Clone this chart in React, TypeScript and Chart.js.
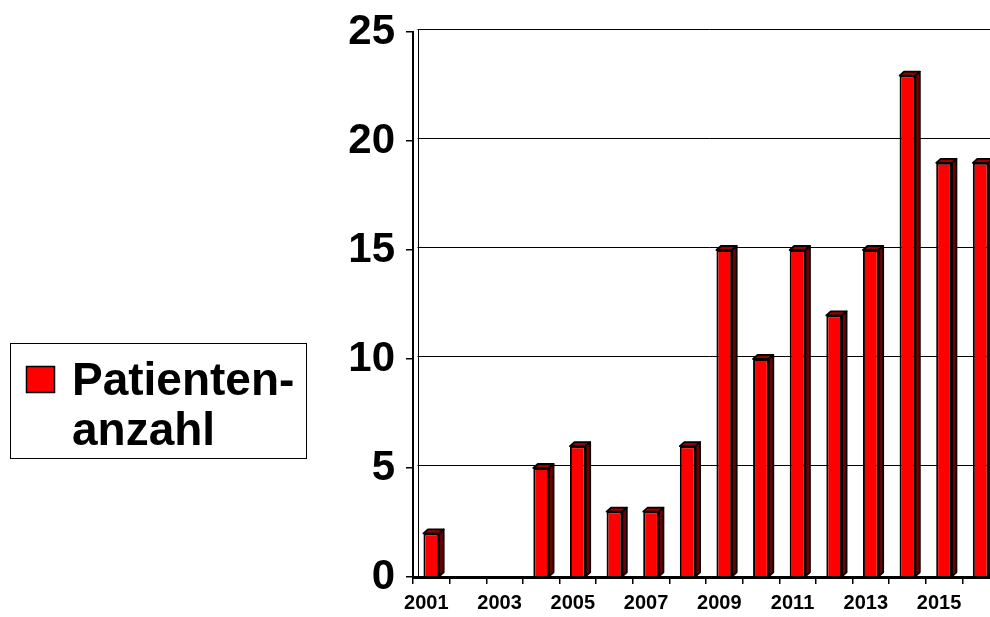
import React, { useEffect, useRef } from "react";
import { Chart, registerables } from "chart.js";

Chart.register(...registerables);

const years = ["2001","2002","2003","2004","2005","2006","2007","2008","2009","2010","2011","2012","2013","2014","2015","2016"];
const patients = [2, 0, 0, 5, 6, 3, 3, 6, 15, 10, 15, 12, 15, 23, 19, 19];
const yTicks = [0, 5, 10, 15, 20, 25];
const legendLines = ["Patienten-", "anzahl"];

const DX = 4.5;
const DY = 4;
const FONT = "'Liberation Sans', Arial, sans-serif";

const threeD = {
  id: "threeD",
  beforeDatasetsDraw(chart: any) {
    const { ctx, chartArea } = chart;
    const y = chart.scales.y;
    ctx.save();
    ctx.strokeStyle = "#000";
    ctx.lineWidth = 1;
    for (const v of yTicks) {
      if (v === 0) continue;
      const py = Math.round(y.getPixelForValue(v) - DY + 1) + 0.5;
      ctx.beginPath();
      ctx.moveTo(chartArea.left + DX, py);
      ctx.lineTo(chartArea.right + 20, py);
      ctx.stroke();
    }
    const bx = Math.round(chartArea.left + DX) + 0.5;
    ctx.beginPath();
    ctx.moveTo(bx, y.getPixelForValue(25) - DY + 1);
    ctx.lineTo(bx, y.getPixelForValue(0));
    ctx.stroke();
    ctx.restore();
  },
  afterDatasetsDraw(chart: any) {
    const { ctx } = chart;
    const meta = chart.getDatasetMeta(0);
    ctx.save();
    ctx.strokeStyle = "#000";
    ctx.lineWidth = 1.8;
    ctx.lineJoin = "round";
    meta.data.forEach((bar: any) => {
      const { x, y, base, width } = bar.getProps(["x", "y", "base", "width"], true);
      if (Math.abs(base - y) < 0.5) return;
      const l = x - width / 2;
      const r = x + width / 2;
      ctx.fillStyle = "#990000";
      ctx.beginPath();
      ctx.moveTo(l, y);
      ctx.lineTo(l + DX, y - DY);
      ctx.lineTo(r + DX, y - DY);
      ctx.lineTo(r, y);
      ctx.closePath();
      ctx.fill();
      ctx.stroke();
      ctx.fillStyle = "#700000";
      ctx.beginPath();
      ctx.moveTo(r, y);
      ctx.lineTo(r + DX, y - DY);
      ctx.lineTo(r + DX, base - DY);
      ctx.lineTo(r, base);
      ctx.closePath();
      ctx.fill();
      ctx.stroke();
    });
    ctx.restore();
  },
  afterDraw(chart: any) {
    const { ctx } = chart;
    ctx.save();
    ctx.strokeStyle = "#000";
    ctx.lineWidth = 1;
    ctx.fillStyle = "#fff";
    ctx.fillRect(10.5, 343.5, 296, 115);
    ctx.strokeRect(10.5, 343.5, 296, 115);
    ctx.fillStyle = chart.data.datasets[0].backgroundColor;
    ctx.fillRect(26.5, 366.5, 28, 26);
    ctx.lineWidth = 1.5;
    ctx.strokeRect(26.5, 366.5, 28, 26);
    ctx.fillStyle = "#000";
    ctx.font = `bold 46px ${FONT}`;
    ctx.textBaseline = "alphabetic";
    ctx.textAlign = "left";
    ctx.fillText(legendLines[0], 72, 395);
    ctx.fillText(legendLines[1], 72, 445);
    ctx.restore();
  },
};

export default function App() {
  const ref = useRef<HTMLCanvasElement | null>(null);
  useEffect(() => {
    if (!ref.current) return;
    const chart = new Chart(ref.current, {
      type: "bar",
      data: {
        labels: years,
        datasets: [
          {
            label: "Patientenanzahl",
            data: patients,
            backgroundColor: "#ff0000",
            borderColor: "#000",
            borderWidth: 2,
            barPercentage: 0.43,
            categoryPercentage: 1,
          },
        ],
      },
      options: {
        responsive: false,
        animation: false,
        layout: { padding: { left: 0, top: 28, right: 1, bottom: 0 } },
        plugins: { legend: { display: false }, tooltip: { enabled: false } },
        scales: {
          x: {
            offset: true,
            grid: {
              offset: true,
              drawOnChartArea: false,
              drawTicks: true,
              tickLength: 7,
              color: "#000",
              lineWidth: 1.5,
            },
            border: { display: true, color: "#000", width: 3 },
            ticks: {
              autoSkip: false,
              maxRotation: 0,
              minRotation: 0,
              padding: 7,
              labelOffset: -5,
              color: "#000",
              font: { family: FONT, size: 20, weight: "bold" },
              callback: (_v: any, i: number) => (i % 2 === 0 ? years[i] : ""),
            },
            afterFit: (s: any) => {
              s.height = 40;
            },
          },
          y: {
            min: 0,
            max: 25,
            afterBuildTicks: (s: any) => {
              s.ticks = yTicks.map((v) => ({ value: v }));
            },
            grid: {
              drawOnChartArea: false,
              drawTicks: true,
              tickLength: 7,
              color: "#000",
              lineWidth: 1.5,
            },
            border: { display: true, color: "#000", width: 2 },
            ticks: {
              padding: 11,
              color: "#000",
              font: { family: FONT, size: 42, weight: "bold", lineHeight: 1 },
            },
            afterFit: (s: any) => {
              s.width = 413;
            },
          },
        },
      },
      plugins: [threeD],
    });
    return () => chart.destroy();
  }, []);
  return (
    <div
      style={{
        position: "fixed",
        left: 0,
        top: 0,
        width: 990,
        height: 617,
        overflow: "hidden",
        background: "#fff",
      }}
    >
      <canvas ref={ref} width={1000} height={617} style={{ width: 1000, height: 617, display: "block" }} />
    </div>
  );
}
